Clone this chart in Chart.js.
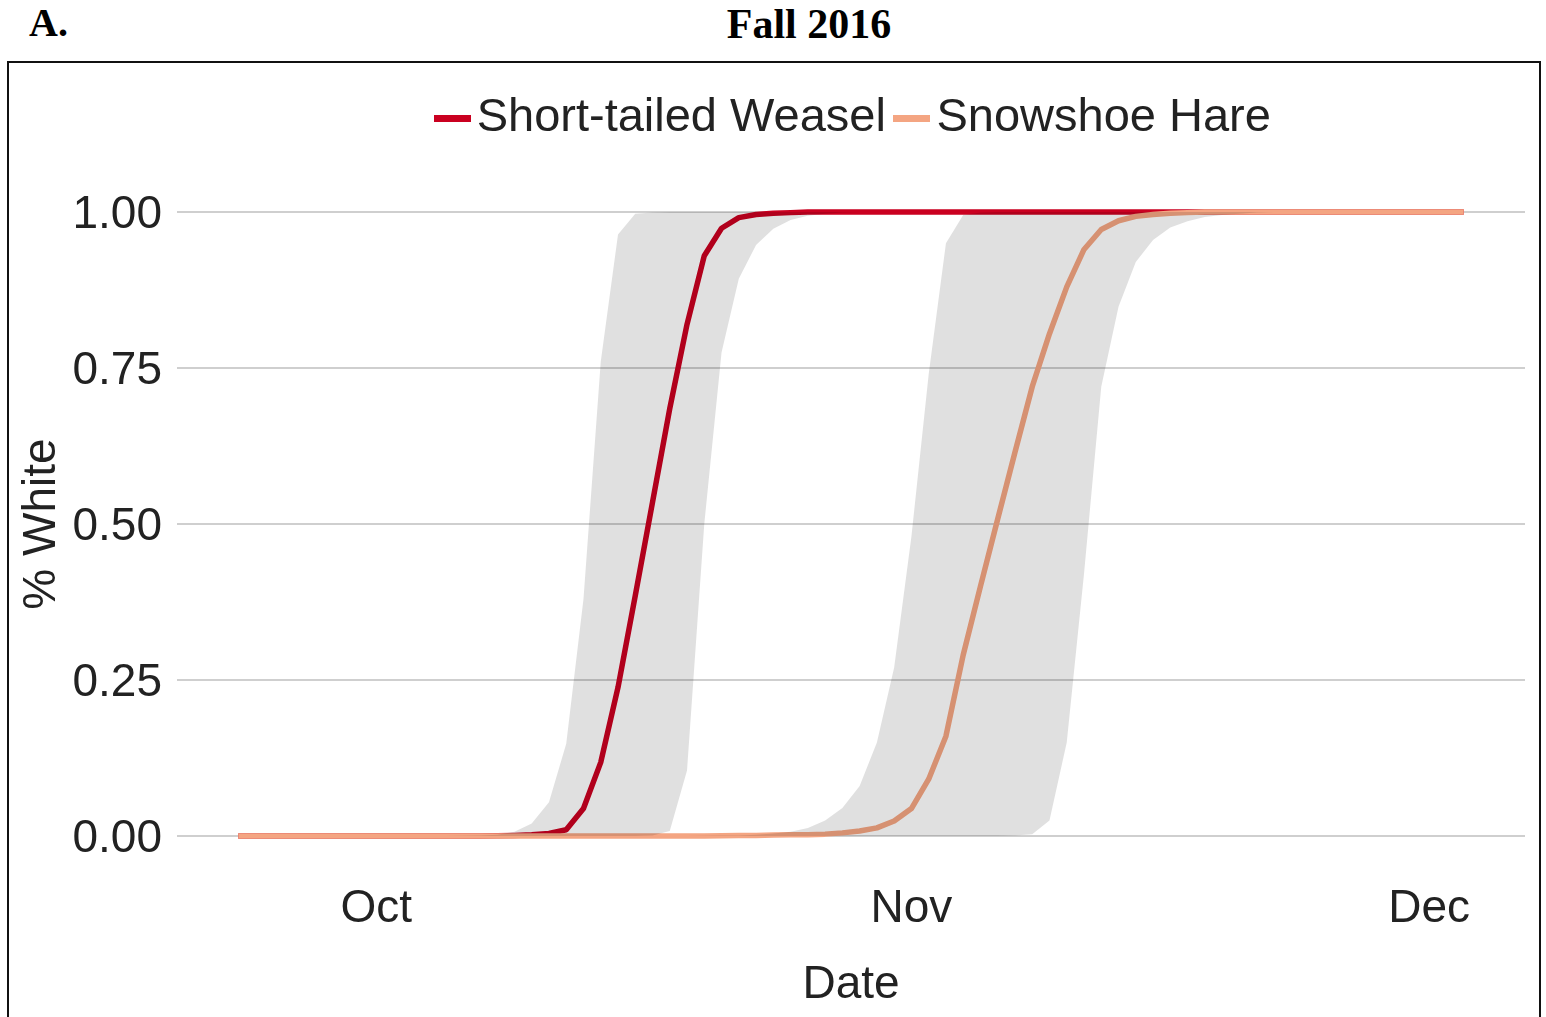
<!DOCTYPE html>
<html>
<head>
<meta charset="utf-8">
<script src="https://cdn.jsdelivr.net/npm/chart.js@4/dist/chart.umd.min.js"></script>
<style>
  html, body { margin: 0; padding: 0; background: #ffffff; width: 1546px; height: 1017px; overflow: hidden; }
  .ttl { position: absolute; font-family: "Liberation Serif", "Times New Roman", serif; font-weight: bold; color: #000; line-height: 1; white-space: nowrap; }
  #panelLetter { left: 29px; top: 3px; font-size: 40px; }
  #mainTitle { left: 809px; top: 2.5px; font-size: 42px; transform: translateX(-50%); }
  #frame { position: absolute; left: 7px; top: 61px; width: 1530px; height: 1000px; border: 2px solid #111; box-sizing: content-box; }
  #wrap { position: absolute; left: 9px; top: 63px; width: 1530px; height: 954px; }
</style>
</head>
<body>
<div class="ttl" id="panelLetter">A.</div>
<div class="ttl" id="mainTitle">Fall 2016</div>
<div id="frame"></div>
<div id="wrap"><canvas id="c" width="1530" height="954"></canvas></div>
<script>
// ---- data (day offset from 1 Oct 2016) ----
const days = [-8,-7,-6,-5,-4,-3,-2,-1,0,1,2,3,
  4,5,6,7,8,9,10,11,12,13,14,15,
  16,17,18,19,20,21,22,23,24,25,26,27,
  28,29,30,31,32,33,34,35,36,37,38,39,
  40,41,42,43,44,45,46,47,48,49,50,51,
  52,53,54,55,56,57,58,59,60,61,62,63];

const weasel = [0,0,0,0,0,0,0,0,0,0,0,0,
  0,0,0,0.0005,0.001,0.002,0.004,0.010,0.044,0.118,0.238,0.385,
  0.535,0.685,0.82,0.93,0.974,0.991,0.996,0.998,0.999,1,1,1,
  1,1,1,1,1,1,1,1,1,1,1,1,
  1,1,1,1,1,1,1,1,1,1,1,1,
  1,1,1,1,1,1,1,1,1,1,1,1];

const weaselUpper = [0,0,0,0,0,0,0,0,0,0,0,0,
  0,0.0005,0.001,0.002,0.007,0.02,0.054,0.148,0.38,0.76,0.964,0.997,
  0.999,1,1,1,1,1,1,1,1,1,1,1,
  1,1,1,1,1,1,1,1,1,1,1,1,
  1,1,1,1,1,1,1,1,1,1,1,1,
  1,1,1,1,1,1,1,1,1,1,1,1];

const weaselLower = [0,0,0,0,0,0,0,0,0,0,0,0,
  0,0,0,0,0,0,0,0,0,0,0,0,
  0.001,0.008,0.105,0.50,0.775,0.893,0.947,0.973,0.987,0.994,0.997,0.999,
  1,1,1,1,1,1,1,1,1,1,1,1,
  1,1,1,1,1,1,1,1,1,1,1,1,
  1,1,1,1,1,1,1,1,1,1,1,1];

const hare = [0,0,0,0,0,0,0,0,0,0,0,0,
  0,0,0,0,0,0,0,0,0,0,0,0,
  0,0,0,0,0.0005,0.001,0.001,0.0015,0.002,0.002,0.003,0.005,
  0.008,0.013,0.024,0.044,0.091,0.16,0.29,0.40,0.508,0.615,0.72,0.805,
  0.88,0.94,0.972,0.986,0.993,0.996,0.998,0.999,1,1,1,1,
  1,1,1,1,1,1,1,1,1,1,1,1];

const hareUpper = [0,0,0,0,0,0,0,0,0,0,0,0,
  0,0,0,0,0,0,0,0,0,0,0,0,
  0,0,0,0.0005,0.001,0.001,0.002,0.004,0.007,0.013,0.025,0.045,
  0.08,0.15,0.27,0.48,0.74,0.95,0.995,0.999,1,1,1,1,
  1,1,1,1,1,1,1,1,1,1,1,1,
  1,1,1,1,1,1,1,1,1,1,1,1];

const hareLower = [0,0,0,0,0,0,0,0,0,0,0,0,
  0,0,0,0,0,0,0,0,0,0,0,0,
  0,0,0,0,0,0,0,0,0,0,0,0,
  0,0,0,0,0,0,0,0,0,0.001,0.003,0.025,
  0.15,0.42,0.72,0.848,0.92,0.955,0.975,0.985,0.992,0.995,0.997,0.999,
  1,1,1,1,1,1,1,1,1,1,1,1];

const seriesNames = ['Short-tailed Weasel', 'Snowshoe Hare'];
const seriesColors = ['#ca0020', '#f4a582'];
const xTickValues = [0, 31, 61];
const xTickLabels = ['Oct', 'Nov', 'Dec'];
const yTickValues = [0, 0.25, 0.5, 0.75, 1];
const yTickLabels = ['0.00', '0.25', '0.50', '0.75', '1.00'];

// ---- helpers ----
const pts = vals => days.map((d, i) => ({ x: d, y: vals[i] }));
const ribbonFill = 'rgba(0,0,0,0.12)';
const TEXT = '#222222';
const FONT = 'Liberation Sans';

function keyImage(color) {
  const cv = document.createElement('canvas');
  cv.width = 37; cv.height = 7;
  const g = cv.getContext('2d');
  g.fillStyle = color; g.fillRect(0, 0, 37, 7);
  return cv;
}
const keyImages = seriesColors.map(keyImage);

const legendPlace = {
  id: 'legendPlace',
  afterLayout(chart) {
    const lg = chart.legend, ca = chart.chartArea;
    if (!lg) return;
    lg.left = ca.left + 20;
    lg.right = ca.right;
    lg.top -= 28.8;
    lg.bottom -= 28.8;
  }
};

Chart.defaults.font.family = FONT;
Chart.defaults.color = TEXT;

const lineBase = { pointRadius: 0, pointHoverRadius: 0, tension: 0, borderWidth: 5.5, fill: false, borderJoinStyle: 'round' };
const ribbonBase = { pointRadius: 0, pointHoverRadius: 0, tension: 0, borderWidth: 0, borderColor: 'transparent', backgroundColor: ribbonFill, order: 1 };

new Chart(document.getElementById('c'), {
  type: 'line',
  data: {
    datasets: [
      Object.assign({}, lineBase, { label: seriesNames[0], data: pts(weasel), borderColor: seriesColors[0], order: 3 }),
      Object.assign({}, lineBase, { label: seriesNames[1], data: pts(hare), borderColor: seriesColors[1], order: 2 }),
      Object.assign({}, ribbonBase, { label: 'weasel-lo', data: pts(weaselLower), fill: false }),
      Object.assign({}, ribbonBase, { label: 'weasel-hi', data: pts(weaselUpper), fill: '-1' }),
      Object.assign({}, ribbonBase, { label: 'hare-lo', data: pts(hareLower), fill: false }),
      Object.assign({}, ribbonBase, { label: 'hare-hi', data: pts(hareUpper), fill: '-1' })
    ]
  },
  options: {
    responsive: false,
    animation: false,
    events: [],
    layout: { padding: { top: 35.8, right: 14, bottom: 0, left: 0 } },
    plugins: {
      tooltip: { enabled: false },
      legend: {
        position: 'top',
        align: 'center',
        labels: {
          usePointStyle: true,
          pointStyleWidth: 2,
          padding: 25,
          color: TEXT,
          font: { family: FONT, size: 47 },
          generateLabels: () => seriesNames.map((name, i) => ({
            text: name,
            pointStyle: keyImages[i],
            fillStyle: seriesColors[i],
            strokeStyle: seriesColors[i],
            fontColor: TEXT,
            lineWidth: 0,
            hidden: false,
            datasetIndex: i
          }))
        }
      }
    },
    scales: {
      x: {
        type: 'linear',
        min: -11.55,
        max: 66.55,
        grid: { display: false, drawTicks: false },
        border: { display: false },
        afterBuildTicks: s => { s.ticks = xTickValues.map(v => ({ value: v })); },
        afterFit: s => { s.height = 149.8; },
        ticks: {
          padding: 15,
          maxRotation: 0,
          autoSkip: false,
          color: TEXT,
          font: { family: FONT, size: 46 },
          callback: v => xTickLabels[xTickValues.indexOf(v)]
        },
        title: { display: true, text: 'Date', color: TEXT, font: { family: FONT, size: 46 }, padding: { top: 0, bottom: 4 } }
      },
      y: {
        type: 'linear',
        min: -0.05,
        max: 1.05,
        grid: { color: '#cfcfcf', lineWidth: 2, drawTicks: false },
        border: { display: false },
        afterBuildTicks: s => { s.ticks = yTickValues.map(v => ({ value: v })); },
        afterFit: s => { s.width = 168; },
        ticks: {
          padding: 15,
          labelOffset: 3,
          autoSkip: false,
          color: TEXT,
          font: { family: FONT, size: 46 },
          callback: v => yTickLabels[yTickValues.indexOf(v)]
        },
        title: { display: true, text: '% White', color: TEXT, font: { family: FONT, size: 46 }, padding: { top: 6, bottom: 0 } }
      }
    }
  },
  plugins: [legendPlace]
});
</script>
</body>
</html>
